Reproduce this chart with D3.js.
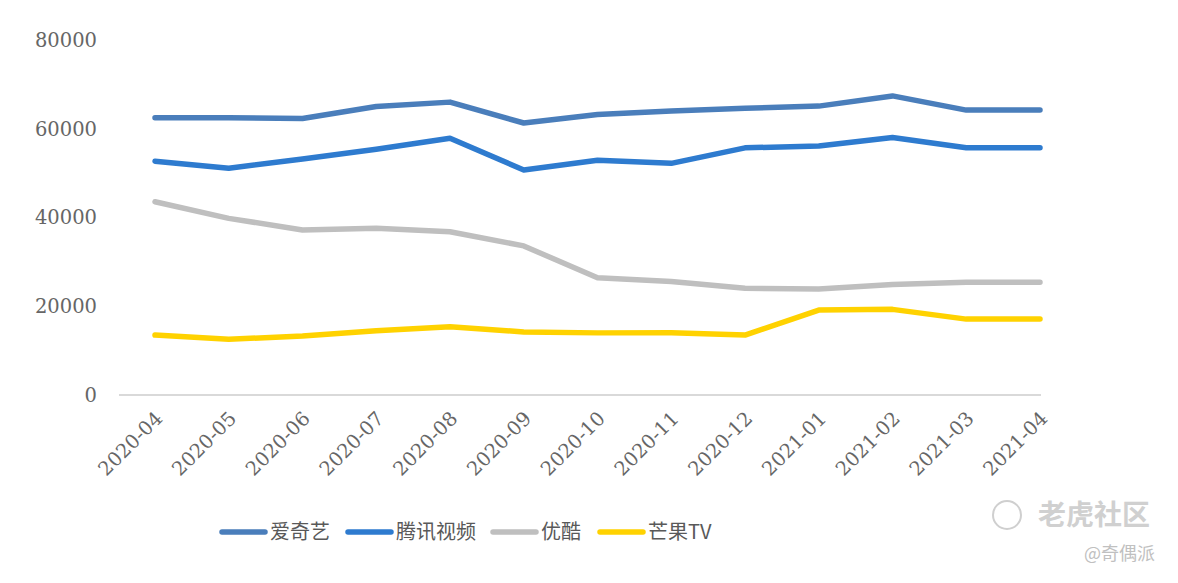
<!DOCTYPE html>
<html>
<head>
<meta charset="utf-8">
<script src="https://cdn.jsdelivr.net/npm/d3@7"></script>
<style>
  body { margin: 0; background: #fff; }
  svg { display: block; }
</style>
</head>
<body>
<div id="plot"></div>
<script>
// months on the x axis
var months = ["2020-04","2020-05","2020-06","2020-07","2020-08","2020-09","2020-10",
              "2020-11","2020-12","2021-01","2021-02","2021-03","2021-04"];
var yTicks = [0, 20000, 40000, 60000, 80000];

// monthly values
var iqiyi   = [62500, 62500, 62300, 65000, 66000, 61300, 63200, 64000, 64600, 65100, 67400, 64200, 64200];
var tencent = [52700, 51100, 53200, 55400, 57850, 50700, 52900, 52200, 55700, 56100, 58050, 55700, 55700];
var youku   = [43550, 39800, 37200, 37550, 36800, 33600, 26400, 25600, 24050, 23900, 24900, 25400, 25400];
var mango   = [13500, 12550, 13300, 14500, 15400, 14200, 14000, 14050, 13500, 19150, 19300, 17100, 17100];

var seriesNames = ["爱奇艺", "腾讯视频", "优酷", "芒果TV"];
var colors = ["#4a7ebb", "#2e7bcf", "#bfbfbf", "#ffd200"];
var series = [iqiyi, tencent, youku, mango];

var W = 1178, H = 583;
var svg = d3.select("#plot").append("svg")
    .attr("width", W).attr("height", H);

var serif = "'DejaVu Serif', 'Liberation Serif', serif";
var cjk = "'Noto Sans CJK SC', sans-serif";

// scales
var x = d3.scalePoint().domain(months).range([155, 1040]);
var y = d3.scaleLinear().domain([0, 80000]).range([395, 40]);

// y axis labels only, no line
svg.append("g")
    .attr("transform", "translate(97,0)")
    .call(d3.axisLeft(y).tickValues(yTicks).tickSize(0).tickPadding(0).tickFormat(d3.format("d")))
    .call(function(g){ g.select(".domain").remove(); })
    .selectAll("text")
    .attr("font-family", serif)
    .attr("font-size", 19.5)
    .attr("fill", "#666");

// x axis line
svg.append("line")
    .attr("x1", 119).attr("x2", 1041)
    .attr("y1", y(0)).attr("y2", y(0))
    .attr("stroke", "#d9d9d9").attr("stroke-width", 2);

// x labels rotated
svg.append("g")
    .selectAll("text")
    .data(months)
    .enter()
    .append("text")
    .attr("transform", function(d){ return "translate(" + (x(d) - 1) + ",410) rotate(-45)"; })
    .attr("text-anchor", "end")
    .attr("dy", "0.7em")
    .attr("font-family", serif)
    .attr("font-size", 19.5)
    .attr("fill", "#666")
    .text(function(d){ return d; });

// lines
var line = d3.line()
    .x(function(d, i){ return x(months[i]); })
    .y(function(d){ return y(d); });

svg.append("g")
    .selectAll("path")
    .data(series)
    .enter()
    .append("path")
    .attr("d", line)
    .attr("fill", "none")
    .attr("stroke", function(d, i){ return colors[i]; })
    .attr("stroke-width", 5.5)
    .attr("stroke-linejoin", "round")
    .attr("stroke-linecap", "round");

// legend
var legendX = [222, 348, 493, 600];
var lg = svg.append("g")
    .selectAll("g")
    .data(seriesNames)
    .enter()
    .append("g")
    .attr("transform", function(d, i){ return "translate(" + legendX[i] + ",532)"; });
lg.append("line")
    .attr("x1", 0).attr("x2", 43)
    .attr("stroke", function(d, i){ return colors[i]; })
    .attr("stroke-width", 5.5)
    .attr("stroke-linecap", "round");
lg.append("text")
    .attr("x", 48)
    .attr("dy", "0.35em")
    .attr("font-family", cjk)
    .attr("font-size", 20)
    .attr("fill", "#595959")
    .text(function(d){ return d; });

// watermark
var wm = svg.append("g").attr("fill", "#c8c8c8");
wm.append("circle")
    .attr("cx", 1007).attr("cy", 515).attr("r", 14)
    .attr("fill", "none").attr("stroke", "#cfcfcf").attr("stroke-width", 2);
wm.append("text")
    .attr("x", 1038).attr("y", 525)
    .attr("font-family", cjk).attr("font-size", 28).attr("font-weight", "bold")
    .attr("fill", "#d0d0d0")
    .text("老虎社区");
wm.append("text")
    .attr("x", 1155).attr("y", 560)
    .attr("text-anchor", "end")
    .attr("font-family", cjk).attr("font-size", 18)
    .attr("fill", "#c0c0c0")
    .text("@奇偶派");
</script>
</body>
</html>
